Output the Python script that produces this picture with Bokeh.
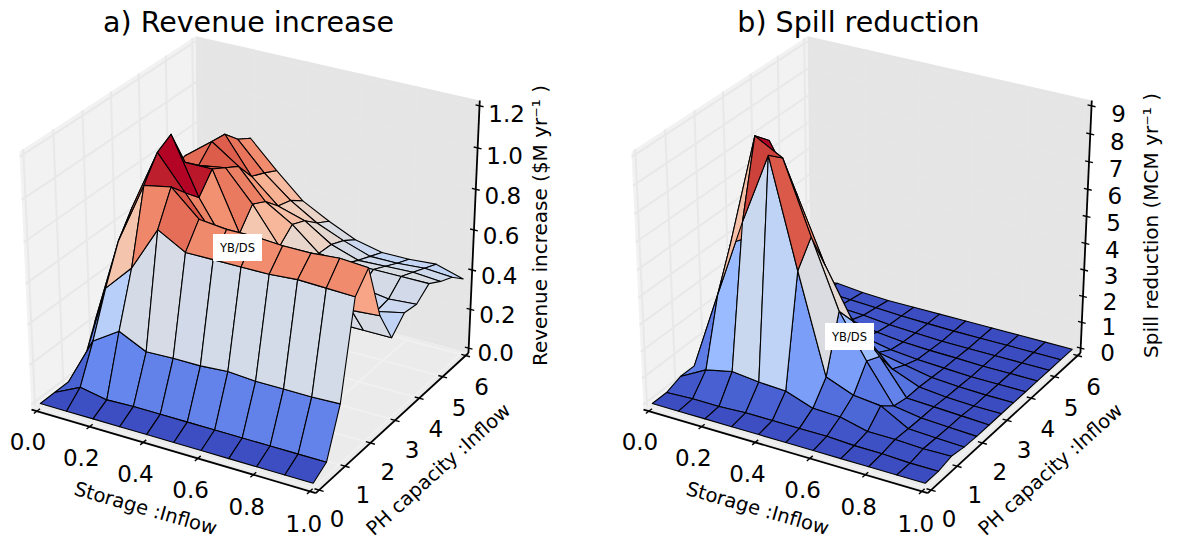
import numpy as np
from bokeh.plotting import figure
from bokeh.layouts import row
from bokeh.embed import file_html
from bokeh.resources import INLINE
from bokeh.core.properties import value

storage_inflow = [0.0, 0.1, 0.2, 0.3, 0.4, 0.5, 0.6, 0.7, 0.8, 0.9, 1.0]
ph_capacity = [0.0, 0.5, 1.0, 1.5, 2.0, 2.5, 3.0, 3.5, 4.0, 4.5, 5.0, 5.5, 6.0]

# one row per PH capacity value, one column per storage value
revenue = [
    [0, 0, 0, 0, 0, 0, 0, 0, 0, 0, 0],
    [0, .065, .04, .045, .045, .045, .045, .045, .045, .045, .045],
    [0, .245, .33, .265, .27, .27, .28, .27, .27, .27, .275],
    [.02, .456, .59, .81, .735, .735, .735, .735, .745, .74, .735],
    [.2, .64, .94, .965, .845, .83, .83, .82, .82, .83, .82],
    [.3, .75, 1.05, .89, .73, .6, .55, .53, .53, .53, .54],
    [.35, .75, 1.09, .82, .62, .5, .42, .4, .38, .38, .38],
    [.35, .78, .91, .91, .63, .5, .45, .42, .42, .42, .45],
    [.35, .8, .85, .87, .725, .55, .48, .45, .45, .43, .44],
    [.35, .82, .92, .83, .69, .61, .5, .485, .49, .49, .49],
    [.3, .8, .91, .735, .62, .58, .495, .45, .455, .46, .45],
    [.3, .78, .84, .705, .6, .52, .465, .42, .42, .43, .42],
    [.3, .7, .80, .67, .55, .48, .42, .39, .39, .40, .36],
]
spill = [
    [0, 0, 0, 0, 0, 0, 0, 0, 0, 0, 0],
    [0, .05, .05, .1, .1, .1, .1, .05, .05, 0, 0],
    [.2, .74, .96, .85, .8, .44, .4, .15, .15, .1, .12],
    [.2, 3.2, 6.1, 8.7, 4.85, 1.2, .8, .69, .12, .07, .03],
    [.15, 4.7, 8.8, 8.26, 5.7, 3.25, 1.67, .26, .1, .05, 0],
    [.1, 4.5, 8.3, 6.6, 4.3, 2.5, 1.44, .15, .1, .05, 0],
    [.1, 1.5, 4, 4.5, 2.6, 1.5, .55, .15, .05, 0, 0],
    [.05, .6, 1.5, 2.5, 1.2, .5, .3, .1, .03, 0, 0],
    [.05, .4, .8, 1.0, .4, .2, .1, .05, 0, 0, 0],
    [.05, .3, .4, .4, .2, .1, .05, .03, 0, 0, 0],
    [0, .25, .25, .2, .1, .05, 0, 0, 0, 0, 0],
    [0, .2, .15, .1, .05, .02, 0, 0, 0, 0, 0],
    [0, .15, .05, 0, 0, 0, 0, 0, 0, 0, 0],
]

x_ticks = [0.0, 0.2, 0.4, 0.6, 0.8, 1.0]
x_tick_labels = ["0.0", "0.2", "0.4", "0.6", "0.8", "1.0"]
y_ticks = [0, 1, 2, 3, 4, 5, 6]
y_tick_labels = ["0", "1", "2", "3", "4", "5", "6"]
rev_ticks = [0.0, 0.2, 0.4, 0.6, 0.8, 1.0, 1.2]
rev_tick_labels = ["0.0", "0.2", "0.4", "0.6", "0.8", "1.0", "1.2"]
spill_ticks = [0, 1, 2, 3, 4, 5, 6, 7, 8, 9]
spill_tick_labels = ["0", "1", "2", "3", "4", "5", "6", "7", "8", "9"]

COOLWARM = [(59,76,192),(68,90,204),(77,104,215),(87,117,225),(98,130,234),(108,142,241),
            (119,154,247),(130,165,251),(141,176,254),(152,185,255),(163,194,255),(174,201,253),
            (184,208,249),(194,213,244),(204,217,238),(213,219,230),(221,221,221),(229,216,209),
            (236,211,197),(241,204,185),(245,196,173),(247,187,160),(247,177,148),(247,166,135),
            (244,154,123),(241,141,111),(236,127,99),(229,112,88),(222,96,77),(213,80,66),
            (203,62,56),(192,40,47),(180,4,38)]
FONT = value("DejaVu Sans")
ELEV, AZIM, DIST = np.radians(30), np.radians(-60), 10.0
SX, SY = 3150.0, 2828.0
TOP, BOTTOM = 0.0, 542.0
M = 1 / 48


def cmap(t):
    t = min(max(t, 0), 1) * (len(COOLWARM) - 1)
    i = min(int(t), len(COOLWARM) - 2)
    f = t - i
    c = [round(COOLWARM[i][k] * (1 - f) + COOLWARM[i + 1][k] * f) for k in range(3)]
    return "#%02x%02x%02x" % tuple(c)


def project(X, Y, Z):
    X, Y, Z = (np.asarray(a, float) - .5 for a in (X, Y, Z))
    n = np.array([np.cos(AZIM) * np.cos(ELEV), np.sin(AZIM) * np.cos(ELEV), np.sin(ELEV)])
    e = np.array([-np.sin(AZIM), np.cos(AZIM), 0.0])
    v = np.cross(n, e)
    depth = n[0] * X + n[1] * Y + n[2] * Z
    w = DIST - depth
    return (e[0] * X + e[1] * Y) / w, (v[0] * X + v[1] * Y + v[2] * Z) / w, depth


def panel(left, right, tx, ty, zmax, z_table, z_ticks, z_labels, title, title_px, zlabel, zlabel_px,
          storage_px, ph_px, tag_px):
    p = figure(width=int(right - left), height=int(BOTTOM - TOP),
               x_range=((left - tx) / SX, (right - tx) / SX),
               y_range=((ty - BOTTOM) / SY, (ty - TOP) / SY),
               x_axis_location=None, y_axis_location=None, toolbar_location=None,
               output_backend="svg", min_border=0, outline_line_color=None,
               background_fill_color="white", border_fill_color="white")
    p.grid.visible = False

    def at(px, py):
        return (px - tx) / SX, (ty - py) / SY

    def poly(points):
        a = np.array(points, float)
        u, v, _ = project(a[:, 0], a[:, 1], a[:, 2])
        return list(u), list(v)

    lo, hi = -M, 1 + M
    for pts, col in [([(lo, lo, lo), (lo, hi, lo), (lo, hi, hi), (lo, lo, hi)], "#f2f2f2"),
                     ([(lo, hi, lo), (hi, hi, lo), (hi, hi, hi), (lo, hi, hi)], "#e5e5e5"),
                     ([(lo, lo, lo), (hi, lo, lo), (hi, hi, lo), (lo, hi, lo)], "#ebebeb")]:
        u, v = poly(pts)
        p.patch(u, v, fill_color=col, line_color=None)

    def lines(segs, color, width):
        xs, ys = [], []
        for s in segs:
            u, v = poly(s)
            xs.append(u)
            ys.append(v)
        p.multi_line(xs, ys, line_color=color, line_width=width)

    # grid lines on the panes
    yt = [t / 6 for t in y_ticks]
    xt = list(x_ticks)
    zt = [t / zmax for t in z_ticks]
    lines([[(lo, t, lo), (lo, t, hi)] for t in yt] + [[(lo, lo, t), (lo, hi, t)] for t in zt], "#e8e8e8", 2)
    lines([[(t, lo, lo), (t, hi, lo)] for t in xt] + [[(lo, t, lo), (hi, t, lo)] for t in yt], "#f0f0f0", 2)
    lines([[(t, hi, lo), (t, hi, hi)] for t in xt] + [[(lo, hi, t), (hi, hi, t)] for t in zt], "#e6e6e6", 2)

    # axis lines and tick marks
    lines([[(lo, lo, lo), (hi, lo, lo)], [(hi, lo, lo), (hi, hi, lo)], [(hi, hi, lo), (hi, hi, hi)]], "black", 1.8)
    lines([[(t, lo - .018, lo), (t, lo + .018, lo)] for t in xt] +
          [[(hi - .016, t, lo), (hi + .016, t, lo)] for t in yt] +
          [[(hi - .014, hi, t), (hi + .014, hi, t)] for t in zt], "black", 1.4)

    # surface: the first corner of each cell counts twice in its colour value
    zz = np.array(z_table, float)
    xg = np.array(storage_inflow)
    yg = np.array(ph_capacity) / 6
    cells = []
    for r in range(len(yg) - 1):
        for c in range(len(xg) - 1):
            idx = [(r, c), (r, c + 1), (r + 1, c + 1), (r + 1, c)]
            X = [xg[j] for _, j in idx]
            Y = [yg[i] for i, _ in idx]
            Zv = [zz[i, j] for i, j in idx]
            u, v, d = project(X, Y, np.array(Zv) / zmax)
            cells.append((float(d.mean()), list(u), list(v), float((sum(Zv) + Zv[0]) / 5)))
    cells.sort(key=lambda c: c[0])
    avg = [c[3] for c in cells]
    amin, amax = min(avg), max(avg)
    p.patches([c[1] for c in cells], [c[2] for c in cells],
              fill_color=[cmap((c[3] - amin) / (amax - amin)) for c in cells],
              line_color="black", line_width=1.1, line_join="round")

    def texts(us, vs, labels, dx, dy, size, angle=0.0):
        p.text(us, vs, text=labels, x_offset=dx, y_offset=dy, angle=angle, text_align="center",
               text_baseline="middle", text_font=FONT, text_font_size=size, text_color="black")

    u, v, _ = project(xt, [lo] * len(xt), [lo] * len(xt))
    texts(list(u), list(v), x_tick_labels, [-9 + 3 * t for t in xt], [30 + 2 * t for t in xt], "23px")
    u, v, _ = project([hi] * len(yt), yt, [lo] * len(yt))
    texts(list(u), list(v), y_tick_labels, [18 - 2 * t for t in yt], [28 + 3 * t for t in yt], "23px")
    u, v, _ = project([hi] * len(zt), [hi] * len(zt), zt)
    texts(list(u), list(v), z_labels, [27] * len(zt), [4 + 4 * t for t in zt], "23px")

    for (px, py), txt, size, ang in [(title_px, title, "28.5px", 0.0),
                                     (storage_px, "Storage :Inflow", "19.5px", np.radians(-16)),
                                     (ph_px, "PH capacity :Inflow", "19.5px", np.radians(42)),
                                     (zlabel_px, zlabel, "20px", np.radians(90))]:
        ux, uy = at(px, py)
        texts([ux], [uy], [txt], [0], [0], size, ang)

    ux, uy = at(*tag_px)
    p.rect([ux], [uy], width=49, height=27, width_units="screen", height_units="screen",
           fill_color="white", line_color=None)
    texts([ux], [uy], ["YB/DS"], [0], [0], "11.5px")
    return p


p1 = panel(0, 590, 253, 256, 1.2, revenue, rev_ticks, rev_tick_labels,
           "a) Revenue increase", (248, 22), "Revenue increase ($M yr\u207b\u00b9 )", (539, 225),
           (145, 508), (438, 469), (237, 247))
p2 = panel(590, 1180, 865, 256, 9, spill, spill_ticks, spill_tick_labels,
           "b) Spill reduction", (858, 22), "Spill reduction (MCM yr\u207b\u00b9 )", (1150, 225),
           (757, 508), (1050, 469), (849, 336))

open("out.html", "w").write(file_html(row(p1, p2, spacing=0), INLINE))
